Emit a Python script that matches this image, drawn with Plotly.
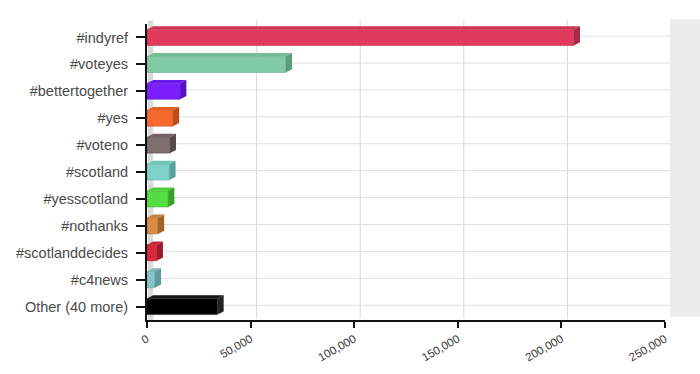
import plotly.graph_objects as go

categories = ["#indyref", "#voteyes", "#bettertogether", "#yes", "#voteno",
              "#scotland", "#yesscotland", "#nothanks", "#scotlanddecides",
              "#c4news", "Other (40 more)"]
values = [206000, 67000, 16000, 12500, 11000, 10800, 10200, 5300, 4700, 3800, 34000]
colors = ["#e23a5c", "#7fc9a5", "#7b1fff", "#f56a2c", "#7e6e6e", "#80d2c8",
          "#55dd44", "#d88c45", "#d8283c", "#88c4c6", "#000000"]
side_colors = ["#a82a46", "#5a9c7e", "#5412c0", "#c04c1a", "#564a4a", "#55a49b",
               "#36a228", "#a26424", "#a01a2a", "#5f9a9c", "#222222"]
top_colors = ["#d03454", "#74bd99", "#6e18f0", "#e26024", "#726464", "#72c4ba",
              "#4ccc3a", "#c87e3c", "#c62436", "#7cb6b8", "#151515"]
x_ticks = [0, 50000, 100000, 150000, 200000, 250000]
x_tick_labels = ["0", "50,000", "100,000", "150,000", "200,000", "250,000"]

BAR_W = 0.6
DEPTH_X = 3000      # depth of the pseudo-3D cap in x data units
DEPTH_Y = 0.12      # depth in category units
GRID_SHIFT_X = 2900  # back-wall gridlines shifted by the 3D depth
GRID_SHIFT_Y = 0.05

order = categories[::-1]

fig = go.Figure()
fig.add_trace(go.Bar(
    y=categories, x=values, orientation="h",
    marker=dict(color=colors, line=dict(color=side_colors, width=0.5)),
    width=BAR_W,
    showlegend=False,
))

shapes = [
    # right side wall
    dict(type="rect", xref="paper", yref="paper", x0=1.0097, x1=1.07,
         y0=0.01, y1=1.017, fillcolor="#ececec", line=dict(width=0),
         layer="below"),
    # left floor strip
    dict(type="rect", xref="paper", yref="paper", x0=0.002, x1=0.012,
         y0=0.0, y1=1.012, fillcolor="#d9dbdb", line=dict(width=0),
         layer="below"),
]
# back-wall gridlines (offset by the 3D depth)
for t in x_ticks[1:-1]:
    shapes.append(dict(type="line", xref="x", yref="paper",
                       x0=t + GRID_SHIFT_X, x1=t + GRID_SHIFT_X, y0=0.005, y1=1.012,
                       line=dict(color="#d8d8d8", width=1), layer="below"))
for i in range(len(order)):
    shapes.append(dict(type="line", xref="paper", yref="y",
                       x0=0.012, x1=1.0097, y0=i + GRID_SHIFT_Y, y1=i + GRID_SHIFT_Y,
                       line=dict(color="#e0e0e0", width=1), layer="below"))

for cat, v, sc, tc in zip(categories, values, side_colors, top_colors):
    i = order.index(cat)
    top = i + BAR_W / 2
    bot = i - BAR_W / 2
    shapes.append(dict(
        type="path", xref="x", yref="y", layer="above",
        path=f"M 0 {top} L {v} {top} L {v + DEPTH_X} {top + DEPTH_Y} L {DEPTH_X} {top + DEPTH_Y} Z",
        fillcolor=tc, line=dict(width=0)))
    shapes.append(dict(
        type="path", xref="x", yref="y", layer="above",
        path=f"M {v} {bot} L {v} {top} L {v + DEPTH_X} {top + DEPTH_Y} L {v + DEPTH_X} {bot + DEPTH_Y} Z",
        fillcolor=sc, line=dict(width=0)))

fig.update_layout(
    width=700, height=374,
    margin=dict(l=147, r=35, t=24, b=54),
    paper_bgcolor="white",
    plot_bgcolor="white",
    font=dict(family="Liberation Sans, Arial, sans-serif", color="#444"),
    xaxis=dict(
        range=[0, 250000], tickvals=x_ticks, ticktext=x_tick_labels,
        tickangle=-30, tickfont=dict(size=11.5, color="#3a3a3a"),
        showgrid=False,
        showline=True, linecolor="#111", linewidth=2,
        ticks="outside", ticklen=6, tickcolor="#111", tickwidth=2,
        zeroline=False, fixedrange=True, automargin=False,
    ),
    yaxis=dict(
        categoryorder="array", categoryarray=order,
        range=[-0.5, 10.5],
        tickfont=dict(size=14.5, color="#4a4a4a"),
        showgrid=False,
        showline=True, linecolor="#111", linewidth=2,
        ticks="outside", ticklen=9, tickcolor="#111", tickwidth=2,
        ticklabelstandoff=5,
        zeroline=False, fixedrange=True, automargin=False,
    ),
    shapes=shapes,
)

fig.write_html("out.html", config={"displayModeBar": False},
               post_script="document.body.style.margin='0';")
